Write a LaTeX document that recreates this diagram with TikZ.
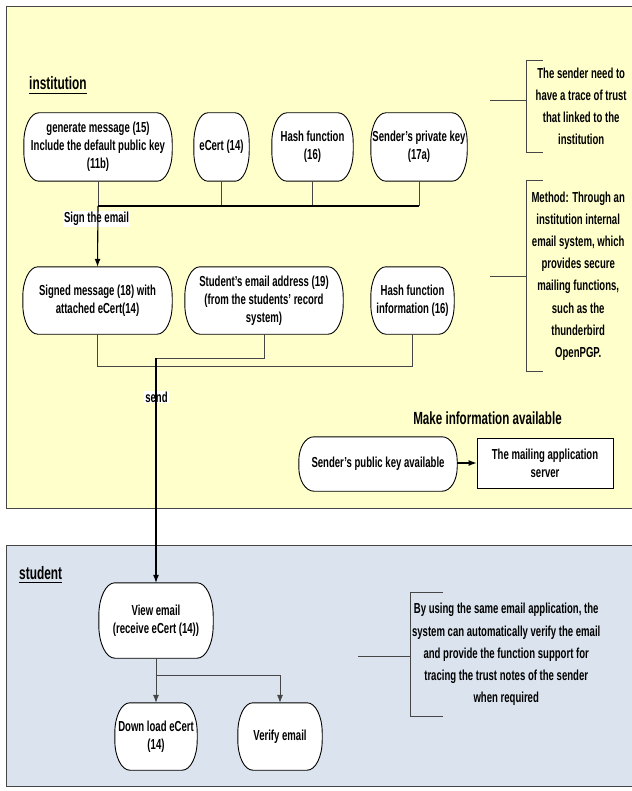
\documentclass[tikz,border=0pt]{standalone}
\usepackage{fontspec}
\setmainfont{Liberation Sans}[FakeStretch=0.66]
\usetikzlibrary{arrows.meta,calc}

\definecolor{laneyellow}{RGB}{255,255,204}
\definecolor{laneblue}{RGB}{219,228,238}
\definecolor{edgegray}{RGB}{70,70,70}

\pgfdeclarelayer{bg}
\pgfdeclarelayer{boxes}
\pgfsetlayers{bg,boxes,main}

\tikzset{
  boxtext/.style={font=\fontsize{14.5}{18}\selectfont\bfseries, align=center,
    inner sep=0pt, shape=rectangle},
  pillline/.style={draw=black, line width=0.9pt, fill=white},
  flow/.style={draw=black, line width=1.1pt},
  stub/.style={draw=edgegray, line width=0.8pt},
  tip/.style={-{Latex[length=8pt,width=6pt]}},
  notetext/.style={font=\fontsize{14.5}{22.2}\selectfont\bfseries, align=center,
    inner sep=0pt, anchor=west},
  bracket/.style={draw=edgegray, line width=0.9pt},
  lanetitle/.style={font=\fontsize{18}{20}\selectfont\bfseries, inner sep=0pt,
    anchor=base west},
  lane/.style={draw=edgegray, line width=1pt},
  tag/.style={font=\fontsize{14.5}{16}\selectfont\bfseries, fill=white, inner sep=1pt},
  serverbox/.style={boxtext, draw=black, fill=white, line width=0.9pt},
}

% rounded outline with elliptic corners behind a named node
\newcommand\pillframe[3]{%
  \begin{pgfonlayer}{boxes}
  \path[pillline] let \p1=(#1.north west), \p2=(#1.south east) in
    (\x1+#2,\y1) -- (\x2-#2,\y1)
    arc[start angle=90,end angle=0,x radius=#2,y radius=#3]
    -- (\x2,\y2+#3)
    arc[start angle=0,end angle=-90,x radius=#2,y radius=#3]
    -- (\x1+#2,\y2)
    arc[start angle=270,end angle=180,x radius=#2,y radius=#3]
    -- (\x1,\y1-#3)
    arc[start angle=180,end angle=90,x radius=#2,y radius=#3] -- cycle;
  \end{pgfonlayer}}

% side bracket of a note
\newcommand\notebracket[2]{%
  \draw[bracket] ($(#1.north west)+(#2,0)$) -- (#1.north west) -- (#1.south west)
    -- ++(#2,0);}

\begin{document}
\begin{tikzpicture}[x=1pt,y=1pt]
\useasboundingbox (0,0) rectangle (631,-791);

% page and swim lanes
\begin{pgfonlayer}{bg}
  \fill[white] (0,0) rectangle (631,-791);
  \path[lane, fill=laneyellow] (6,-7) rectangle (640,-508);
  \path[lane, fill=laneblue] (6,-545) rectangle (640,-786);
\end{pgfonlayer}

% lane titles
\node[lanetitle] (inst) at (29,-90) {institution};
\draw[line width=1.6pt] ($(inst.base west)+(0,-3.5)$) -- ($(inst.base east)+(0,-3.5)$);
\node[lanetitle] (stu) at (19,-579) {student};
\draw[line width=1.6pt] ($(stu.base west)+(0,-3.5)$) -- ($(stu.base east)+(0,-3.5)$);

% institution: inputs
\node[boxtext, minimum width=148, minimum height=68] (gen) at (98,-147)
  {generate message (15)\\Include the default public key\\(11b)};
\node[boxtext, minimum width=55, minimum height=68] (ecert) at (221.5,-147) {eCert (14)};
\node[boxtext, minimum width=81, minimum height=68] (hash) at (312.5,-147) {Hash function\\(16)};
\node[boxtext, minimum width=96, minimum height=68] (priv) at (419,-147) {Sender's private key\\(17a)};

% institution: signed output
\node[boxtext, minimum width=149, minimum height=67] (signed) at (97.5,-300.5)
  {Signed message (18) with\\attached eCert(14)};
\node[boxtext, minimum width=158, minimum height=67] (stud) at (264,-300.5)
  {Student's email address (19)\\(from the students' record\\system)};
\node[boxtext, minimum width=83, minimum height=67] (hinfo) at (412.5,-300.5)
  {Hash function\\information (16)};

% publishing the key
\node[font=\fontsize{17.6}{20}\selectfont\bfseries, inner sep=0pt] (avail) at (487.5,-418)
  {Make information available};
\node[boxtext, minimum width=158, minimum height=54] (pub) at (378,-464)
  {Sender's public key available};
\node[serverbox, minimum width=136, minimum height=50] (server) at (545,-463)
  {The mailing application\\server};

% student
\node[boxtext, minimum width=114, minimum height=75] (view) at (156,-620.5)
  {View email\\(receive eCert (14))};
\node[boxtext, minimum width=82, minimum height=67] (down) at (156,-736.5)
  {Down load eCert\\(14)};
\node[boxtext, minimum width=84, minimum height=67] (verify) at (280,-736.5) {Verify email};

\pillframe{gen}{15}{30}
\pillframe{ecert}{14}{30}
\pillframe{hash}{15}{30}
\pillframe{priv}{15}{30}
\pillframe{signed}{15}{30}
\pillframe{stud}{15}{30}
\pillframe{hinfo}{15}{30}
\pillframe{pub}{15}{24}
\pillframe{view}{16}{33}
\pillframe{down}{15}{30}
\pillframe{verify}{15}{30}

% notes
\node[notetext, minimum width=110, minimum height=91] (n1) at (526,-106.5)
  {The sender need to\\have a trace of trust\\that linked to the\\institution};
\node[notetext, minimum width=104, minimum height=190] (n2) at (526,-276)
  {Method: Through an\\institution internal\\email system, which\\provides secure\\mailing functions,\\such as the\\thunderbird\\OpenPGP.};
\node[notetext, minimum width=192, minimum height=123] (n3) at (410,-654.5)
  {By using the same email application, the\\system can automatically verify the email\\and provide the function support for\\tracing the trust notes of the sender\\when required};
\notebracket{n1}{17}
\notebracket{n2}{17}
\notebracket{n3}{33}
\coordinate (c1) at (490,-100);
\coordinate (c2) at (490,-276);
\coordinate (c3) at (358,-656);
\draw[bracket] (c1) -- (c1 -| n1.west);
\draw[bracket] (c2) -- (c2 -| n2.west);
\draw[bracket] (c3) -- (c3 -| n3.west);

% edge labels
\node[tag] (signlbl) at (96.5,-219) {Sign the email};
\node[tag] (sendlbl) at (156.5,-397) {send};

% signing
\coordinate (bar1) at (0,-206);
\draw[stub] (gen.south) -- (gen.south |- bar1);
\draw[stub] (ecert.south) -- (ecert.south |- bar1);
\draw[stub] (hash.south) -- (hash.south |- bar1);
\draw[stub] (priv.south) -- (priv.south |- bar1);
\draw[flow] (gen.south |- bar1) -- (priv.south |- bar1);
\draw[flow, tip] (gen.south |- bar1) -- (signed.north);

% sending
\coordinate (bar2) at (0,-366);
\coordinate (bar3) at (0,-358);
\draw[stub] (signed.south) -- (signed.south |- bar2) -- (hinfo.south |- bar2) -- (hinfo.south);
\draw[stub] (stud.south) -- (stud.south |- bar3) -- (view.north |- bar3);
\draw[flow, tip] (view.north |- bar3) -- (view.north);

% key publication
\draw[flow, tip] (pub.east |- server.west) -- (server.west);

% receiving
\coordinate (bar4) at (0,-675);
\draw[stub] (view.south) -- (view.south |- bar4) -- (verify.north |- bar4);
\draw[stub, tip] (view.south |- bar4) -- (down.north);
\draw[stub, tip] (verify.north |- bar4) -- (verify.north);
\end{tikzpicture}
\end{document}
